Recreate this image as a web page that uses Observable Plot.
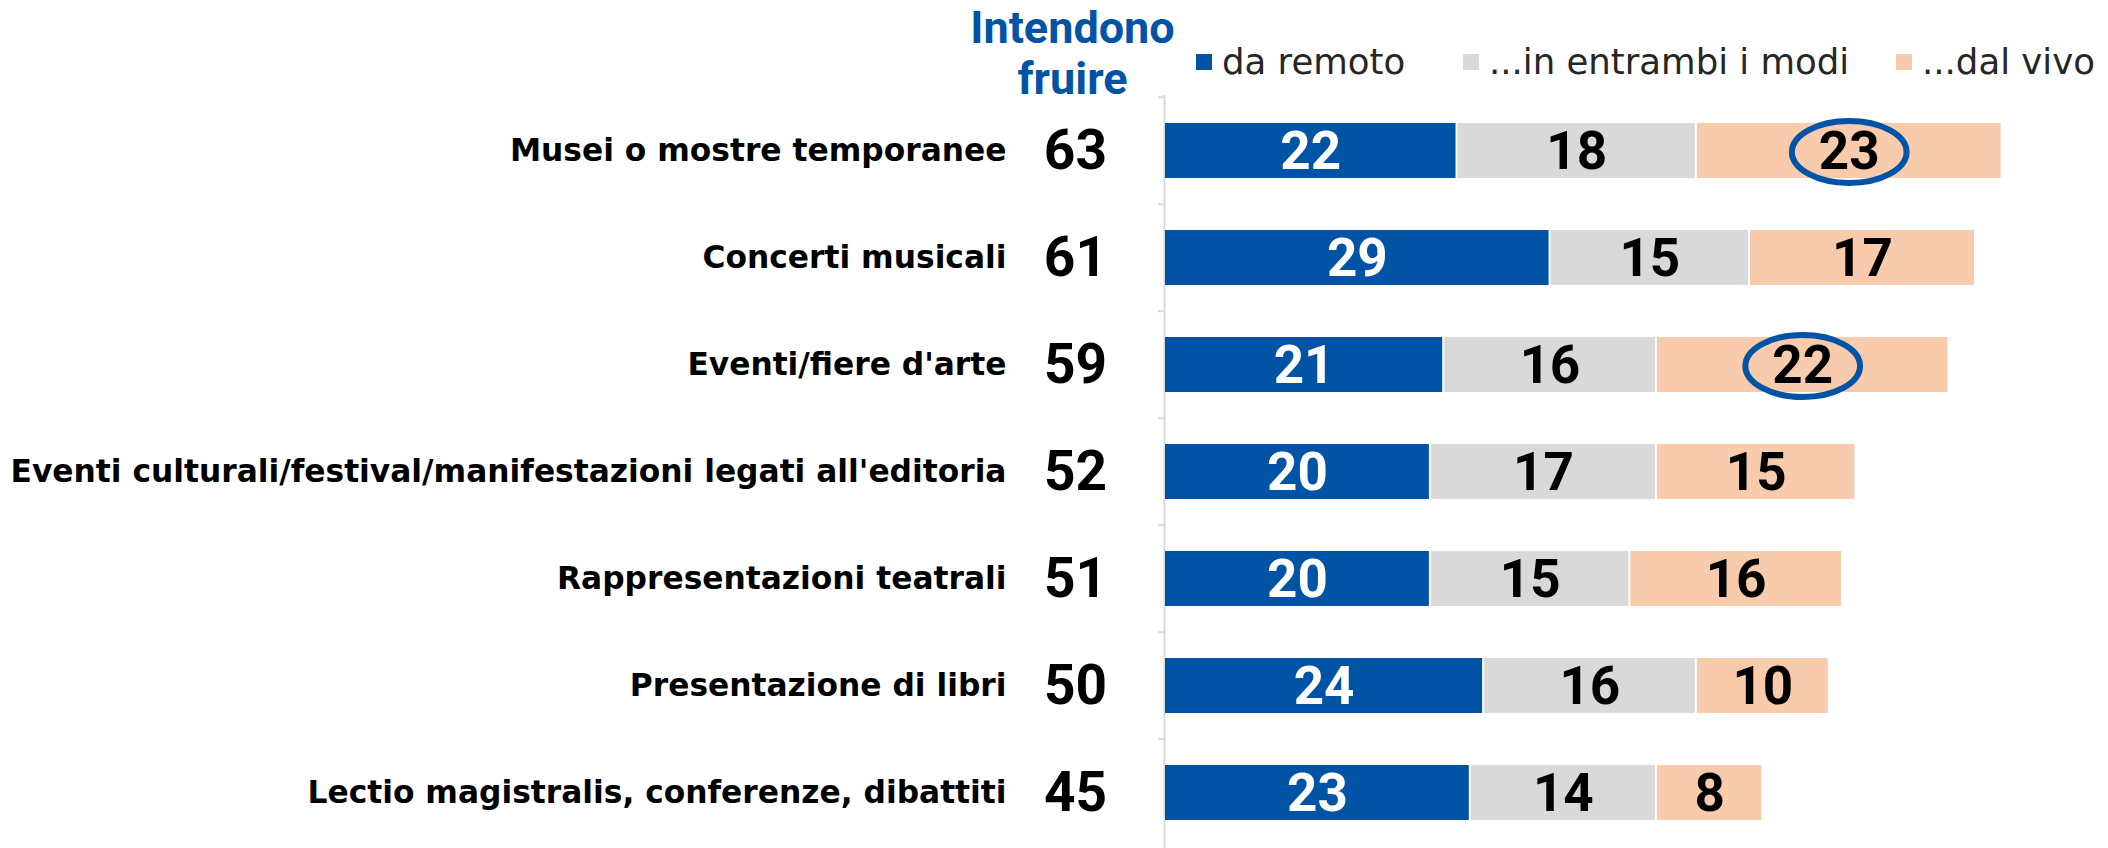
<!DOCTYPE html>
<html>
<head>
<meta charset="utf-8">
<script src="https://cdn.jsdelivr.net/npm/d3@7"></script>
<script src="https://cdn.jsdelivr.net/npm/@observablehq/plot@0.6"></script>
<style>
  html, body { margin: 0; padding: 0; background: #fff; }
  #wrap { position: relative; width: 2108px; height: 848px; }
  #legend { position: absolute; left: 0; top: 40px; width: 2108px; height: 44px;
            font-family: "DejaVu Sans", sans-serif; font-size: 35.5px; color: #262626; line-height: 44px; }
  #legend .item { position: absolute; top: 0; display: flex; align-items: center; white-space: nowrap; }
  #legend .sw { width: 16px; height: 16px; margin-right: 10px; display: inline-block; }
</style>
</head>
<body>
<div id="wrap">
  <div id="chart"></div>
  <div id="legend"></div>
</div>
<script>
const categories = [
  "Musei o mostre temporanee",
  "Concerti musicali",
  "Eventi/fiere d'arte",
  "Eventi culturali/festival/manifestazioni legati all'editoria",
  "Rappresentazioni teatrali",
  "Presentazione di libri",
  "Lectio magistralis, conferenze, dibattiti"
];
const totals = [63, 61, 59, 52, 51, 50, 45];
const seriesNames = ["da remoto", "...in entrambi i modi", "...dal vivo"];
const daRemoto = [22, 29, 21, 20, 20, 24, 23];
const inEntrambi = [18, 15, 16, 17, 15, 16, 14];
const dalVivo = [23, 17, 22, 15, 16, 10, 8];
const highlighted = [
  ["Musei o mostre temporanee", "...dal vivo"],
  ["Eventi/fiere d'arte", "...dal vivo"]
];
const headerText = "Intendono\nfruire";

const colors = ["#0053A5", "#D9D9D9", "#F8CBAD"];
const seriesValues = [daRemoto, inEntrambi, dalVivo];

const table = categories.flatMap((c, i) => seriesNames.map((s, j) => ({
  cat: c, series: s, value: seriesValues[j][i],
  hl: highlighted.some(h => h[0] === c && h[1] === s)
})));

const ellipse = {
  draw(ctx, size) {
    const r = Math.sqrt(size / Math.PI);
    const rx = r * 1.85, ry = r, k = 0.5523;
    ctx.moveTo(rx, 0);
    ctx.bezierCurveTo(rx, ry * k, rx * k, ry, 0, ry);
    ctx.bezierCurveTo(-rx * k, ry, -rx, ry * k, -rx, 0);
    ctx.bezierCurveTo(-rx, -ry * k, -rx * k, -ry, 0, -ry);
    ctx.bezierCurveTo(rx * k, -ry, rx, -ry * k, rx, 0);
    ctx.closePath();
  }
};

const W = 2108, H = 848, mTop = 95, mLeft = 1164;
const step = (H - mTop) / categories.length;

const chart = Plot.plot({
  width: W, height: H,
  marginLeft: mLeft, marginRight: 0, marginTop: mTop, marginBottom: 0,
  style: { fontFamily: "DejaVu Sans, sans-serif", background: "white" },
  x: { domain: [0, 71], axis: null },
  y: { domain: categories, paddingInner: 0.49, paddingOuter: 0.245, axis: null },
  color: { domain: seriesNames, range: colors },
  marks: [
    Plot.ruleX([0], { stroke: "#D9D9D9", strokeWidth: 2 }),
    Plot.axisY({ tickSize: 6, tickFormat: () => "", label: null, stroke: "#D9D9D9", strokeWidth: 2, dy: -step / 2 }),
    Plot.barX(table, Plot.stackX({
      x: "value", y: "cat", fill: "series", order: seriesNames,
      insetLeft: 1, insetRight: 1
    })),
    Plot.text(table, Plot.stackX({
      x: "value", y: "cat", z: "series", order: seriesNames, text: "value",
      fill: d => d.series === seriesNames[0] ? "white" : "black",
      fontSize: 53, fontWeight: "bold", fontFamily: "Roboto", dy: 1
    })),
    Plot.dot(table, Plot.stackX({
      x: "value", y: "cat", z: "series", order: seriesNames,
      r: 31, symbol: ellipse, fill: "none", stroke: colors[0], strokeWidth: 6,
      strokeOpacity: d => d.hl ? 1 : 0, dy: 1
    })),
    Plot.text(categories, {
      y: d => d, text: d => d, frameAnchor: "left", textAnchor: "end", dx: -158,
      fontSize: 31.3, fontWeight: "bold", fill: "black", fontFamily: "DejaVu Sans"
    }),
    Plot.text(categories, {
      y: d => d, text: (d, i) => totals[i], frameAnchor: "left", textAnchor: "middle", dx: -89,
      fontSize: 55, fontWeight: "bold", fill: "black", fontFamily: "Roboto"
    }),
    Plot.text([headerText], {
      text: d => d, frameAnchor: "top-left", textAnchor: "middle", lineAnchor: "middle",
      dx: -92, dy: -43, lineHeight: 1.12, fontSize: 45, fontWeight: "bold",
      fill: colors[0], fontFamily: "Roboto"
    })
  ]
});
document.getElementById("chart").appendChild(chart);

const legendLeft = [1196, 1463, 1896];
const legend = document.getElementById("legend");
seriesNames.forEach((s, i) => {
  const item = document.createElement("div");
  item.className = "item";
  item.style.left = legendLeft[i] + "px";
  const sw = document.createElement("span");
  sw.className = "sw";
  sw.style.background = colors[i];
  item.appendChild(sw);
  item.appendChild(document.createTextNode(s));
  legend.appendChild(item);
});
</script>
</body>
</html>
